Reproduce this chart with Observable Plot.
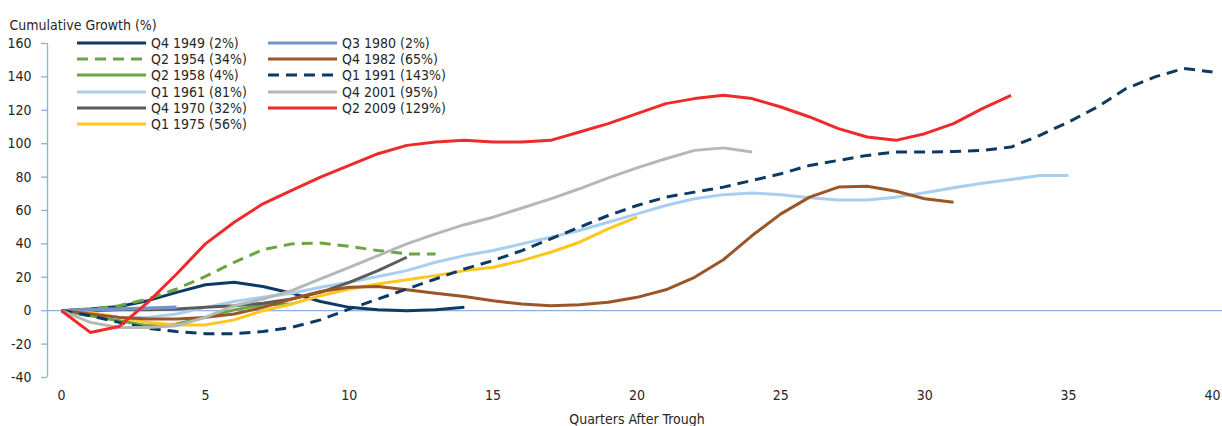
<!DOCTYPE html>
<html>
<head>
<meta charset="utf-8">
<script src="https://cdn.jsdelivr.net/npm/d3@7"></script>
<script src="https://cdn.jsdelivr.net/npm/@observablehq/plot@0.6"></script>
<style>
  body { margin: 0; background: #fff; }
  #wrap { position: relative; width: 1222px; height: 426px; font-family: "Liberation Sans Narrow", "DejaVu Sans Condensed", "Roboto Condensed", "Arial Narrow", sans-serif; color: #262626; }
  #legend { position: absolute; left: 0; top: 0; }
  .col { position: absolute; top: 34.5px; }
  .item { height: 16.33px; display: flex; align-items: center; font-size: 14px; white-space: nowrap; }
  .item svg { margin-right: 5px; }
</style>
</head>
<body>
<div id="wrap"></div>
<script>
// ---- data ----
const seriesNames = ["Q4 1949 (2%)", "Q2 1954 (34%)", "Q2 1958 (4%)", "Q1 1961 (81%)", "Q4 1970 (32%)", "Q1 1975 (56%)",
                     "Q3 1980 (2%)", "Q4 1982 (65%)", "Q1 1991 (143%)", "Q4 2001 (95%)", "Q2 2009 (129%)"];
const q4_1949 = [0, 1, 2.5, 6, 11, 15.5, 17, 14.5, 10.5, 5.5, 2, 0.5, 0, 0.5, 2];
const q2_1954 = [0, 1, 3, 7, 13, 20.5, 29, 36.5, 40, 40.5, 38.5, 36, 34, 34];
const q2_1958 = [0, -3, -6, -9, -8, -4, 0.5, 3.5, 4];
const q1_1961 = [0, -2, -4, -4, -2, 2, 5.5, 8, 10.5, 14, 17, 20.5, 24, 29, 33, 36, 40, 44, 48, 53, 58, 63, 67, 69.5, 70.5,
                 69.5, 67.7, 66.3, 66.3, 68, 70.6, 73.6, 76.3, 78.5, 81, 81];
const q4_1970 = [0, 0, 0.5, 0.5, 1, 2, 3, 4.5, 7, 11, 17, 24, 32];
const q1_1975 = [0, -1, -4, -7, -8.5, -8.5, -5.5, 0, 4, 9, 13, 16, 18.5, 21, 24, 26, 30, 35, 41, 49, 56];
const q3_1980 = [0, 0.5, 1, 1.5, 2];
const q4_1982 = [0, -2, -4, -5, -5, -4, -2, 2, 7, 11.5, 14, 14.5, 12.5, 10.5, 8.5, 6, 4, 3, 3.5, 5, 8, 12.5, 20, 30.5, 45,
                 58, 68, 74, 74.5, 71.5, 67, 65];
const q1_1991 = [0, -3, -7, -10.5, -12.5, -13.8, -13.8, -12.5, -10, -5.5, 1, 7, 13, 19, 25, 30, 36, 43, 50, 57, 63, 68, 71,
                 74, 78, 82, 87, 90, 93, 95, 95, 95.3, 96, 98, 105, 113, 122, 133, 140, 145, 143];
const q4_2001 = [0, -7, -10, -10, -9, -4, 3, 7, 12, 19, 26, 33, 40, 46, 51.5, 56, 61.5, 67, 73, 79.5, 85.5, 91, 96, 97.5, 95];
const q2_2009 = [0, -13, -9.5, 5, 22, 40, 53, 64, 72, 80, 87, 94, 99, 101, 102, 101, 101, 102, 107, 112, 118, 124, 127,
                 129, 127, 122, 116, 109, 104, 102, 106, 112, 121, 129];
const seriesValues = [q4_1949, q2_1954, q2_1958, q1_1961, q4_1970, q1_1975, q3_1980, q4_1982, q1_1991, q4_2001, q2_2009];
const xTicks = [0, 5, 10, 15, 20, 25, 30, 35, 40];
const yTicks = [-40, -20, 0, 20, 40, 60, 80, 100, 120, 140, 160];
const titleText = "Cumulative Growth (%)";
const xLabelText = "Quarters After Trough";

// ---- styles ----
const colors = ["#0d3a63", "#6aa544", "#6aa544", "#a9cff0", "#5b5b5b", "#ffc61e",
                "#7294c7", "#9c5527", "#0d3a63", "#b3bab6", "#ee2b2b"];
const dashes = [null, "11,7", null, null, null, null, null, null, "11,7", null, null];
const widths = [3, 3, 3, 3, 3, 3, 3.5, 3, 3, 3, 3];
const axisColor = "#8fb0dc";
const textColor = "#262626";
const fontFamily = '"Liberation Sans Narrow", "DejaVu Sans Condensed", "Roboto Condensed", "Arial Narrow", sans-serif';
const fmt = d => String(d);

const rows = seriesNames.flatMap((name, k) => seriesValues[k].map((v, i) => ({name, q: i, v})));

const lineMarks = seriesNames.map((name, k) =>
  Plot.line(rows.filter(d => d.name === name), {
    x: "q", y: "v", stroke: colors[k], strokeWidth: widths[k],
    strokeDasharray: dashes[k] || undefined, strokeLinejoin: "round", strokeLinecap: "butt"
  })
);

const chart = Plot.plot({
  width: 1222, height: 426,
  marginTop: 43, marginBottom: 49, marginLeft: 61, marginRight: 10,
  x: {domain: [0, 40]},
  y: {domain: [-40, 160]},
  style: {fontFamily, fontSize: "14px", color: textColor, background: "#fff", overflow: "visible"},
  marks: [
    Plot.ruleY([0], {stroke: axisColor, strokeWidth: 1.3, insetLeft: -14, insetRight: -10}),
    Plot.ruleX([0], {y1: -40, y2: 160, stroke: axisColor, strokeWidth: 1.3, dx: -14}),
    Plot.axisY({ticks: yTicks, tickFormat: fmt, tickSize: 6, tickPadding: 10, dx: -14, stroke: axisColor, strokeWidth: 1.3, fill: textColor, label: null}),
    Plot.axisX({ticks: xTicks, tickFormat: fmt, tickSize: 0, tickPadding: 13, fill: textColor, label: null}),
    ...lineMarks,
    Plot.text([titleText], {frameAnchor: "top-left", dx: -52, dy: -23, textAnchor: "start", fill: textColor}),
    Plot.text([xLabelText], {frameAnchor: "bottom", dy: 46, fill: textColor})
  ]
});

const wrap = document.getElementById("wrap");
wrap.appendChild(chart);

// legend overlay (two columns)
const legend = document.createElement("div");
legend.id = "legend";
const colLefts = [77, 268];
const perCol = [6, 5];
let idx = 0;
colLefts.forEach((left, c) => {
  const col = document.createElement("div");
  col.className = "col";
  col.style.left = left + "px";
  for (let r = 0; r < perCol[c]; r++, idx++) {
    const item = document.createElement("div");
    item.className = "item";
    const ns = "http://www.w3.org/2000/svg";
    const svg = document.createElementNS(ns, "svg");
    svg.setAttribute("width", 69); svg.setAttribute("height", 6);
    const ln = document.createElementNS(ns, "line");
    ln.setAttribute("x1", 0); ln.setAttribute("x2", 69); ln.setAttribute("y1", 3); ln.setAttribute("y2", 3);
    ln.setAttribute("stroke", colors[idx]); ln.setAttribute("stroke-width", 3);
    if (dashes[idx]) ln.setAttribute("stroke-dasharray", dashes[idx]);
    svg.appendChild(ln);
    const span = document.createElement("span");
    span.textContent = seriesNames[idx];
    item.appendChild(svg); item.appendChild(span);
    col.appendChild(item);
  }
  legend.appendChild(col);
});
wrap.appendChild(legend);
</script>
</body>
</html>
